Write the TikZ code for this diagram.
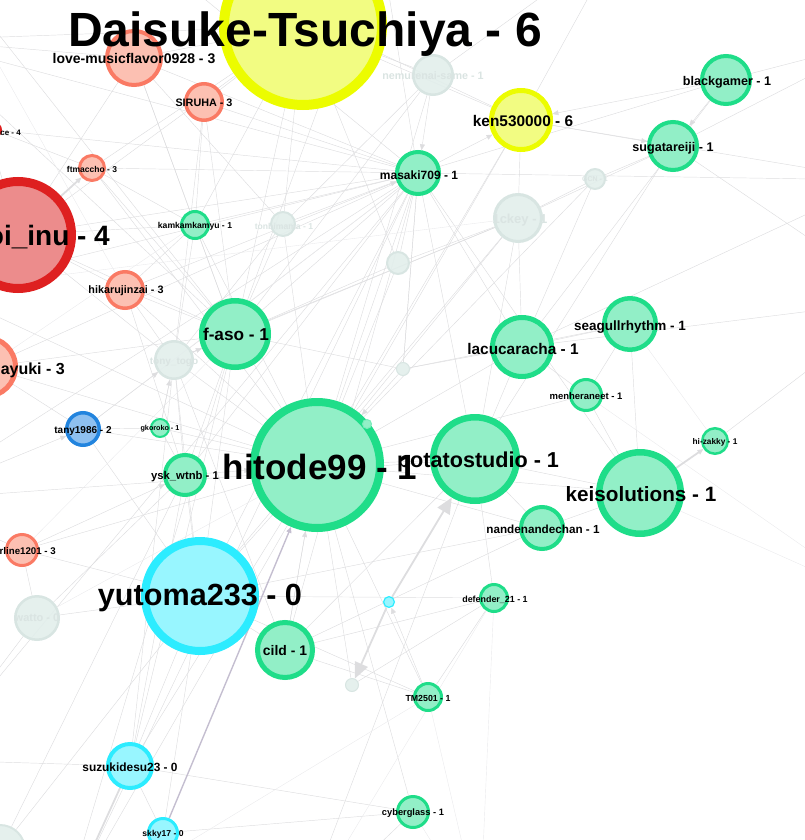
\documentclass[tikz,border=0pt]{standalone}
\usepackage{fontspec}
\setmainfont{Liberation Sans}
\usetikzlibrary{arrows.meta, backgrounds}
\definecolor{grnfill}{RGB}{146,239,199}
\definecolor{grnline}{RGB}{31,221,137}
\definecolor{yelfill}{RGB}{242,252,130}
\definecolor{yelline}{RGB}{236,252,0}
\definecolor{redfill}{RGB}{236,140,140}
\definecolor{redline}{RGB}{222,32,32}
\definecolor{salfill}{RGB}{252,192,178}
\definecolor{salline}{RGB}{250,122,100}
\definecolor{blufill}{RGB}{142,192,240}
\definecolor{bluline}{RGB}{34,132,222}
\definecolor{cynfill}{RGB}{152,246,255}
\definecolor{cynline}{RGB}{44,236,255}
\definecolor{gryfill}{RGB}{226,238,235}
\definecolor{gryline}{RGB}{216,229,226}
\definecolor{edgegray}{RGB}{221,221,223}
\definecolor{edgelight}{RGB}{234,234,236}
\definecolor{edgepurple}{RGB}{196,190,208}
\definecolor{fadetext}{RGB}{218,228,226}

\begin{document}
\begin{tikzpicture}[
    x=1pt, y=-1pt,
    user/.style={circle, draw, inner sep=0pt, minimum size=#1},
    grn/.style={fill=grnfill, draw=grnline},
    yel/.style={fill=yelfill, draw=yelline},
    red/.style={fill=redfill, draw=redline},
    sal/.style={fill=salfill, draw=salline},
    blu/.style={fill=blufill, draw=bluline},
    cyn/.style={fill=cynfill, draw=cynline},
    gry/.style={fill=gryfill, draw=gryline, fill opacity=0.9},
    lab/.style={inner sep=0pt, font=\fontsize{#1}{#1}\selectfont\bfseries},
    faint/.style={text=fadetext},
    edge/.style={draw=edgegray, line width=0.45pt},
    thin/.style={draw=edgelight, line width=0.4pt},
    heavy/.style={draw=edgegray, line width=1.8pt},
    arr/.style={-{Triangle[length=6pt, width=5pt]}},
    bigarr/.style={-{Triangle[length=16pt, width=14pt]}}
]
    \useasboundingbox (0,0) rectangle (805,840);
    \clip (0,0) rectangle (805,840);

    \node[user=158pt, yel, line width=10pt] (daisuke) at (303,26) {};
    \node[user=54pt, sal, line width=4pt] (love) at (134,58) {};
    \node[user=36.5pt, sal, line width=3.5pt] (siruha) at (204,102) {};
    \node[user=14pt, red, line width=2pt] (ace) at (-6,130) {};
    \node[user=25pt, sal, line width=3pt] (ftmaccho) at (92,168) {};
    \node[user=107pt, red, line width=9pt] (oiinu) at (18,235) {};
    \node[user=27pt, grn, line width=3pt] (kamkam) at (195,225) {};
    \node[user=24pt, gry, line width=2pt] (tonbi) at (283,224) {};
    \node[user=22pt, gry, line width=2pt] (conbu) at (398,263) {};
    \node[user=39.5pt, gry, line width=2.5pt] (nemu) at (433,75) {};
    \node[user=59pt, yel, line width=5pt] (ken) at (521,120) {};
    \node[user=48pt, grn, line width=4pt] (black) at (726,80) {};
    \node[user=48pt, grn, line width=4pt] (suga) at (673,146) {};
    \node[user=42pt, grn, line width=4pt] (masaki) at (418,173) {};
    \node[user=20pt, gry, line width=2pt] (gcn) at (595,179) {};
    \node[user=47pt, gry, line width=3pt] (ickey) at (518,218) {};
    \node[user=36.5pt, sal, line width=3.5pt] (hikaru) at (125,290) {};
    \node[user=66.5pt, grn, line width=5.5pt] (faso) at (235,334) {};
    \node[user=37.5pt, gry, line width=2.5pt] (tony) at (174,360) {};
    \node[user=59pt, sal, line width=5pt] (ayuki) at (-14,367) {};
    \node[user=32.5pt, blu, line width=3.5pt] (tany) at (83,429) {};
    \node[user=18pt, grn, line width=2pt] (gkoroko) at (160,428) {};
    \node[user=40pt, grn, line width=4pt] (ysk) at (185,475) {};
    \node[user=126pt, grn, line width=8pt] (hitode) at (317,465) {};
    \node[user=9pt, grn, draw=grnfill!80!grnline, line width=1pt] (gdot1) at (367,424) {};
    \node[user=13pt, gry, line width=1pt] (gdot2) at (403,369) {};
    \node[user=83.5pt, grn, line width=6.5pt] (potato) at (475,459) {};
    \node[user=59pt, grn, line width=5pt] (lacu) at (522,347) {};
    \node[user=51.5pt, grn, line width=4.5pt] (seagull) at (630,324) {};
    \node[user=31pt, grn, line width=3pt] (menhera) at (586,395) {};
    \node[user=25.5pt, grn, line width=2.5pt] (hizakky) at (715,441) {};
    \node[user=81.5pt, grn, line width=6.5pt] (kei) at (640,493) {};
    \node[user=42pt, grn, line width=4pt] (nanden) at (542,528) {};
    \node[user=31pt, sal, line width=3pt] (rline) at (22,550) {};
    \node[user=43.5pt, gry, line width=2.5pt] (watto) at (37,618) {};
    \node[user=110pt, cyn, line width=8pt] (yutoma) at (200,596) {};
    \node[user=55pt, grn, line width=5pt] (cild) at (285,650) {};
    \node[user=10.8pt, cyn, line width=1.2pt] (cdot) at (389,602) {};
    \node[user=13pt, gry, line width=1pt] (gdot3) at (352,685) {};
    \node[user=27pt, grn, line width=3pt] (defender) at (494,598) {};
    \node[user=27pt, grn, line width=3pt] (tm) at (428,697) {};
    \node[user=31pt, grn, line width=3pt] (cyber) at (413,812) {};
    \node[user=44pt, cyn, line width=4pt] (suzuki) at (130,766) {};
    \node[user=29pt, cyn, line width=3pt] (skky) at (163,833) {};
    \node[user=50pt, gry, line width=2pt] (gcorner) at (0,850) {};

    \coordinate (out1) at (-60,-40);
    \coordinate (out2) at (120,-70);
    \coordinate (out3) at (620,-60);
    \coordinate (out4) at (880,40);
    \coordinate (out5) at (900,300);
    \coordinate (out6) at (880,600);
    \coordinate (out7) at (480,920);
    \coordinate (out8) at (300,920);
    \coordinate (out9) at (-90,500);
    \coordinate (out10) at (-70,760);
    \coordinate (out11) at (-60,290);
    \coordinate (out12) at (60,920);
    \coordinate (out13) at (-80,40);
    \coordinate (out14) at (380,-60);
    \coordinate (out15) at (880,180);

    \begin{scope}[on background layer]
        \foreach \a/\b in {love/daisuke, siruha/daisuke, oiinu/love, oiinu/daisuke,
            oiinu/hikaru, oiinu/faso, oiinu/tony, oiinu/out1, ftmaccho/daisuke,
            ftmaccho/masaki, kamkam/masaki, kamkam/daisuke, kamkam/tony, kamkam/faso,
            tonbi/masaki, tonbi/hitode, conbu/masaki, conbu/hitode, conbu/faso,
            nemu/daisuke, nemu/out3, masaki/hitode, masaki/faso, masaki/tony,
            masaki/ysk, masaki/yutoma, masaki/potato, masaki/lacu, masaki/kei,
            ken/daisuke, ken/ickey, ken/hitode, ken/out3, black/out4, black/masaki,
            black/lacu, suga/ickey, suga/potato, suga/out5, gcn/ickey, gcn/hitode,
            ickey/hitode, ickey/faso, ickey/yutoma, ickey/tony, hikaru/faso,
            hikaru/tony, hikaru/hitode, faso/hitode, faso/tony, faso/ysk, faso/yutoma,
            faso/daisuke, tony/ysk, tony/gkoroko, tony/yutoma, tony/hitode, tony/cild,
            ayuki/tany, ayuki/hitode, ayuki/faso, tany/gkoroko, tany/hitode, tany/yutoma,
            gkoroko/hitode, gkoroko/ysk, ysk/yutoma, ysk/suzuki, hitode/potato,
            hitode/lacu, hitode/yutoma, hitode/cild, hitode/kei, hitode/menhera,
            hitode/nanden, gdot2/lacu, gdot2/seagull, gdot2/faso, gdot2/masaki,
            potato/kei, potato/nanden, potato/lacu, potato/defender, lacu/seagull,
            lacu/menhera, seagull/menhera, seagull/kei, menhera/kei, hizakky/out5,
            kei/nanden, nanden/yutoma, nanden/cild, defender/cild, defender/tm,
            defender/yutoma, tm/cild, tm/hitode, tm/yutoma,
            cyber/skky, cyber/suzuki, cyber/hitode, cyber/out8, rline/yutoma, rline/watto,
            rline/hitode, rline/out9, watto/yutoma, watto/ysk, watto/out10, yutoma/cild,
            yutoma/suzuki, yutoma/skky, suzuki/skky, suzuki/hitode, suzuki/faso,
            suzuki/out10, suzuki/tony, skky/out8, gcorner/yutoma, gcorner/ysk,
            gdot3/hitode, gdot3/defender, cild/potato, cild/masaki, out11/masaki,
            out11/hitode, out9/masaki, out9/potato, out12/masaki, out12/ken,
            out5/lacu, out2/ken, out2/masaki, out1/faso, out12/faso,
            out8/potato, out10/masaki, out4/suga, ace/ftmaccho, ace/masaki,
            love/masaki, love/kamkam, love/faso, love/tonbi, siruha/masaki, siruha/kamkam,
            siruha/faso, siruha/tony, ftmaccho/kamkam, ftmaccho/faso, ftmaccho/hitode,
            oiinu/kamkam, oiinu/masaki, hikaru/kamkam, hikaru/ysk, kamkam/hitode,
            tonbi/faso, tonbi/daisuke, tonbi/tony, conbu/ickey, conbu/daisuke,
            nemu/tonbi, nemu/faso, nemu/hitode, out13/masaki, out13/faso, out13/love,
            out14/masaki, out14/faso, out15/ken, out15/masaki, out15/lacu,
            gcn/suga, gcn/lacu, ickey/lacu, ickey/potato, masaki/gdot2, ayuki/masaki}
            \draw[edge] (\a) -- (\b);
        \foreach \a/\b in {kei/out6, defender/out7, tm/out7, out7/cyber, out6/menhera,
            hizakky/seagull, out12/tm, out8/defender, out1/hikaru, out11/ickey,
            ayuki/kamkam, rline/faso, watto/hitode, tany/masaki}
            \draw[thin] (\a) -- (\b);
        \foreach \a/\b in {nemu/masaki, masaki/ken, ken/suga, black/ken, black/suga,
            tony/faso, tany/tony, ysk/hitode, gdot2/hitode, tm/cdot, out9/tany,
            rline/ysk, hikaru/masaki, cild/hitode, gkoroko/tony, out13/daisuke}
            \draw[edge, arr] (\a) -- (\b);
        \draw[heavy, arr] (oiinu) -- (ftmaccho);
        \draw[heavy, arr] (kei) -- (hizakky);
        \draw[heavy, bigarr] (cdot) -- (potato);
        \draw[heavy, bigarr] (cdot) -- (gdot3);
        \draw[heavy] (out12) -- (suzuki);
        \draw[draw=edgepurple, line width=1.4pt, arr] (skky) -- (hitode);
    \end{scope}

    \node[lab=14pt] (love-lab) at (134,59) {love-musicflavor0928 - 3};
    \node[lab=48pt] (daisuke-lab) at (305,34) {Daisuke-Tsuchiya - 6};
    \node[lab=10.8pt] (siruha-lab) at (204,103) {SIRUHA - 3};
    \node[lab=8pt, anchor=east] (ace-lab) at (21,133) {ace - 4};
    \node[lab=8.5pt] (ftmaccho-lab) at (92,169) {ftmaccho - 3};
    \node[lab=28pt, anchor=east] (oiinu-lab) at (110,237) {oi\_inu - 4};
    \node[lab=8.6pt] (kamkam-lab) at (195,226) {kamkamkamyu - 1};
    \node[lab=8.6pt, faint] (tonbi-lab) at (284,226) {tonbimama - 1};
    \node[lab=10.8pt, faint] (nemu-lab) at (433,76) {nemurenai-same - 1};
    \node[lab=15.4pt] (ken-lab) at (523,121) {ken530000 - 6};
    \node[lab=12.6pt] (black-lab) at (727,82) {blackgamer - 1};
    \node[lab=12.6pt] (suga-lab) at (673,148) {sugatareiji - 1};
    \node[lab=12pt] (masaki-lab) at (419,175) {masaki709 - 1};
    \node[lab=7pt, faint] (gcn-lab) at (595,179) {GCN - 1};
    \node[lab=13pt, faint] (ickey-lab) at (520,220) {1ckey - 1};
    \node[lab=10.8pt] (hikaru-lab) at (126,291) {hikarujinzai - 3};
    \node[lab=17.2pt] (faso-lab) at (236,334) {f-aso - 1};
    \node[lab=10pt, faint] (tony-lab) at (174,362) {tony\_togo};
    \node[lab=16pt, anchor=east] (ayuki-lab) at (65,370) {ayuki - 3};
    \node[lab=10pt] (tany-lab) at (83,431) {tany1986 - 2};
    \node[lab=7.2pt] (gkoroko-lab) at (160,429) {gkoroko - 1};
    \node[lab=11.3pt] (ysk-lab) at (185,477) {ysk\_wtnb - 1};
    \node[lab=21.6pt] (potato-lab) at (478,462) {potatostudio - 1};
    \node[lab=35pt] (hitode-lab) at (320,467) {hitode99 - 1};
    \node[lab=15.4pt] (lacu-lab) at (523,349) {lacucaracha - 1};
    \node[lab=13.5pt] (seagull-lab) at (630,327) {seagullrhythm - 1};
    \node[lab=9.5pt] (menhera-lab) at (586,396) {menheraneet - 1};
    \node[lab=8.3pt] (hizakky-lab) at (715,442) {hi-zakky - 1};
    \node[lab=20.7pt] (kei-lab) at (641,494) {keisolutions - 1};
    \node[lab=11.7pt] (nanden-lab) at (543,529) {nandenandechan - 1};
    \node[lab=9.7pt, anchor=east] (rline-lab) at (56,551) {rline1201 - 3};
    \node[lab=11pt, faint] (watto-lab) at (37,618) {watto - 0};
    \node[lab=30.6pt] (yutoma-lab) at (200,598) {yutoma233 - 0};
    \node[lab=13.9pt] (cild-lab) at (285,651) {cild - 1};
    \node[lab=8.9pt] (defender-lab) at (495,600) {defender\_21 - 1};
    \node[lab=8.8pt] (tm-lab) at (428,698) {TM2501 - 1};
    \node[lab=9.3pt] (cyber-lab) at (413,813) {cyberglass - 1};
    \node[lab=11.9pt] (suzuki-lab) at (130,767) {suzukidesu23 - 0};
    \node[lab=8.6pt] (skky-lab) at (163,834) {skky17 - 0};
\end{tikzpicture}
\end{document}
